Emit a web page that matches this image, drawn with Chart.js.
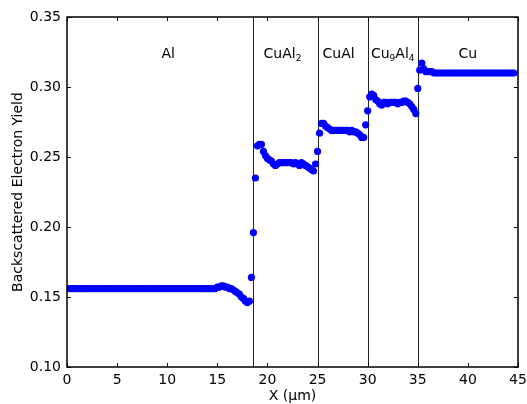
<!DOCTYPE html>
<html>
<head>
<meta charset="utf-8">
<script src="https://cdn.jsdelivr.net/npm/chart.js@4.4.1/dist/chart.umd.min.js"></script>
<style>
  html, body { margin: 0; padding: 0; background: #fff; }
  #wrap { width: 527px; height: 404px; }
</style>
</head>
<body>
<div id="wrap"><canvas id="scan"></canvas></div>
<script>
// line scan, one reading every 0.2 um starting at x = 0
const scanStep = 0.2;

const alYield = [
  0.156, 0.156, 0.156, 0.156, 0.156, 0.156, 0.156, 0.156, 0.156, 0.156,
  0.156, 0.156, 0.156, 0.156, 0.156, 0.156, 0.156, 0.156, 0.156, 0.156,
  0.156, 0.156, 0.156, 0.156, 0.156, 0.156, 0.156, 0.156, 0.156, 0.156,
  0.156, 0.156, 0.156, 0.156, 0.156, 0.156, 0.156, 0.156, 0.156, 0.156,
  0.156, 0.156, 0.156, 0.156, 0.156, 0.156, 0.156, 0.156, 0.156, 0.156,
  0.156, 0.156, 0.156, 0.156, 0.156, 0.156, 0.156, 0.156, 0.156, 0.156,
  0.156, 0.156, 0.156, 0.156, 0.156, 0.156, 0.156, 0.156, 0.156, 0.156,
  0.156, 0.156, 0.156, 0.156, 0.156,
  0.157, 0.157, 0.158, 0.158, 0.157, 0.157, 0.156, 0.156, 0.155, 0.154,
  0.153, 0.152, 0.150, 0.149, 0.147, 0.146, 0.147
];
const cuAl2Yield = [
  0.164, 0.196, 0.235, 0.258, 0.259, 0.259,
  0.254, 0.251, 0.249, 0.248, 0.247, 0.245, 0.244, 0.245,
  0.246, 0.246, 0.246, 0.246, 0.246, 0.246, 0.246, 0.245, 0.246, 0.245,
  0.244, 0.246, 0.245, 0.244, 0.243, 0.242, 0.241, 0.240, 0.245
];
const cuAlYield = [
  0.254, 0.267, 0.274,
  0.274, 0.272, 0.271, 0.270, 0.269,
  0.269, 0.269, 0.269, 0.269, 0.269, 0.269, 0.269, 0.269, 0.268, 0.269, 0.268, 0.268,
  0.267, 0.266, 0.264, 0.264
];
const cu9Al4Yield = [
  0.273, 0.283, 0.293,
  0.295, 0.294, 0.291, 0.290, 0.288, 0.287,
  0.289, 0.289, 0.288, 0.289, 0.289, 0.289, 0.289, 0.288, 0.289, 0.289,
  0.290, 0.290, 0.289, 0.288, 0.286, 0.284, 0.281
];
const cuYield = [
  0.299, 0.312, 0.317,
  0.313, 0.311, 0.311, 0.311, 0.311,
  0.310, 0.310, 0.310, 0.310, 0.310, 0.310, 0.310, 0.310, 0.310, 0.310,
  0.310, 0.310, 0.310, 0.310, 0.310, 0.310, 0.310, 0.310, 0.310, 0.310,
  0.310, 0.310, 0.310, 0.310, 0.310, 0.310, 0.310, 0.310, 0.310, 0.310,
  0.310, 0.310, 0.310, 0.310, 0.310, 0.310, 0.310, 0.310, 0.310, 0.310,
  0.310
];

// phase boundaries (um) and labels
const boundaries = [18.55, 25.05, 30.05, 35.05];
const phaseNames = ['Al', 'CuAl_2', 'CuAl', 'Cu_9Al_4', 'Cu'];
const phaseLabelX = [10.1, 21.5, 27.1, 32.5, 40.0];
const phaseLabelY = 0.3235;

const xTicks = [0, 5, 10, 15, 20, 25, 30, 35, 40, 45];
const yTicks = [0.10, 0.15, 0.20, 0.25, 0.30, 0.35];

const allYield = alYield.concat(cuAl2Yield, cuAlYield, cu9Al4Yield, cuYield);
const points = allYield.map((y, i) => ({ x: +(i * scanStep).toFixed(2), y: y }));

const FONT = "'DejaVu Sans', sans-serif";

function drawPhaseLabel(ctx, text, cx, cy) {
    // "_N" means a subscript digit
    const parts = text.split(/(_\d+)/).filter(p => p.length);
    const big = '14px ' + FONT, small = '9px ' + FONT;
    let total = 0;
    parts.forEach(p => {
        ctx.font = p[0] === '_' ? small : big;
        total += ctx.measureText(p[0] === '_' ? p.slice(1) : p).width;
    });
    let x = cx - total / 2;
    ctx.textAlign = 'left';
    ctx.textBaseline = 'middle';
    parts.forEach(p => {
        const sub = p[0] === '_';
        const s = sub ? p.slice(1) : p;
        ctx.font = sub ? small : big;
        ctx.fillText(s, x, sub ? cy + 5 : cy);
        x += ctx.measureText(s).width;
    });
}

const overlay = {
    id: 'overlay',
    beforeDatasetsDraw(chart) {
        const { ctx, chartArea: a, scales: { x } } = chart;
        ctx.save();
        ctx.strokeStyle = '#222';
        ctx.lineWidth = 1;
        boundaries.forEach(b => {
            const px = Math.round(x.getPixelForValue(b)) + 0.5;
            ctx.beginPath();
            ctx.moveTo(px, a.top);
            ctx.lineTo(px, a.bottom);
            ctx.stroke();
        });
        ctx.fillStyle = '#000';
        const py = chart.scales.y.getPixelForValue(phaseLabelY);
        phaseNames.forEach((n, i) => drawPhaseLabel(ctx, n, x.getPixelForValue(phaseLabelX[i]), py));
        ctx.restore();
    },
    afterDraw(chart) {
        const { ctx, chartArea: a, scales: { x, y } } = chart;
        ctx.save();
        ctx.strokeStyle = '#000';
        ctx.lineWidth = 1;
        const tl = 4;
        ctx.beginPath();
        xTicks.forEach(t => {
            const px = Math.round(x.getPixelForValue(t)) + 0.5;
            ctx.moveTo(px, a.bottom); ctx.lineTo(px, a.bottom - tl);
            ctx.moveTo(px, a.top); ctx.lineTo(px, a.top + tl);
        });
        yTicks.forEach(t => {
            const py = Math.round(y.getPixelForValue(t)) + 0.5;
            ctx.moveTo(a.left, py); ctx.lineTo(a.left + tl, py);
            ctx.moveTo(a.right, py); ctx.lineTo(a.right - tl, py);
        });
        ctx.stroke();
        ctx.lineWidth = 1.5;
        ctx.strokeRect(a.left, a.top, a.right - a.left, a.bottom - a.top);
        ctx.restore();
    }
};

new Chart(document.getElementById('scan'), {
    type: 'scatter',
    data: {
        datasets: [{
            data: points,
            backgroundColor: '#0000ff',
            borderWidth: 0,
            pointRadius: 3.6,
            pointHoverRadius: 3.6
        }]
    },
    options: {
        responsive: true,
        maintainAspectRatio: false,
        animation: false,
        events: [],
        layout: { padding: { top: 17, right: 9, left: 0, bottom: 0 } },
        plugins: { legend: { display: false }, tooltip: { enabled: false } },
        scales: {
            x: {
                type: 'linear',
                min: 0, max: 45,
                afterFit: s => { s.height = 37; s.paddingLeft = 0; s.paddingRight = 0; },
                afterBuildTicks: s => { s.ticks = xTicks.map(v => ({ value: v })); },
                grid: { display: false, drawTicks: false },
                border: { display: false },
                ticks: { color: '#000', font: { family: FONT, size: 14 }, padding: 5, maxRotation: 0,
                         callback: v => String(v) },
                title: { display: true, text: 'X (\u03bcm)', color: '#000',
                         font: { family: FONT, size: 14 }, padding: { top: 0, bottom: -1 } }
            },
            y: {
                type: 'linear',
                min: 0.10, max: 0.35,
                afterFit: s => { s.width = 67; s.paddingTop = 0; s.paddingBottom = 0; },
                afterBuildTicks: s => { s.ticks = yTicks.map(v => ({ value: v })); },
                grid: { display: false, drawTicks: false },
                border: { display: false },
                ticks: { color: '#000', font: { family: FONT, size: 14 }, padding: 6,
                         callback: v => v.toFixed(2) },
                title: { display: true, text: 'Backscattered Electron Yield', color: '#000',
                         font: { family: FONT, size: 14 }, padding: { top: 10, bottom: 0 } }
            }
        }
    },
    plugins: [overlay]
});
</script>
</body>
</html>
